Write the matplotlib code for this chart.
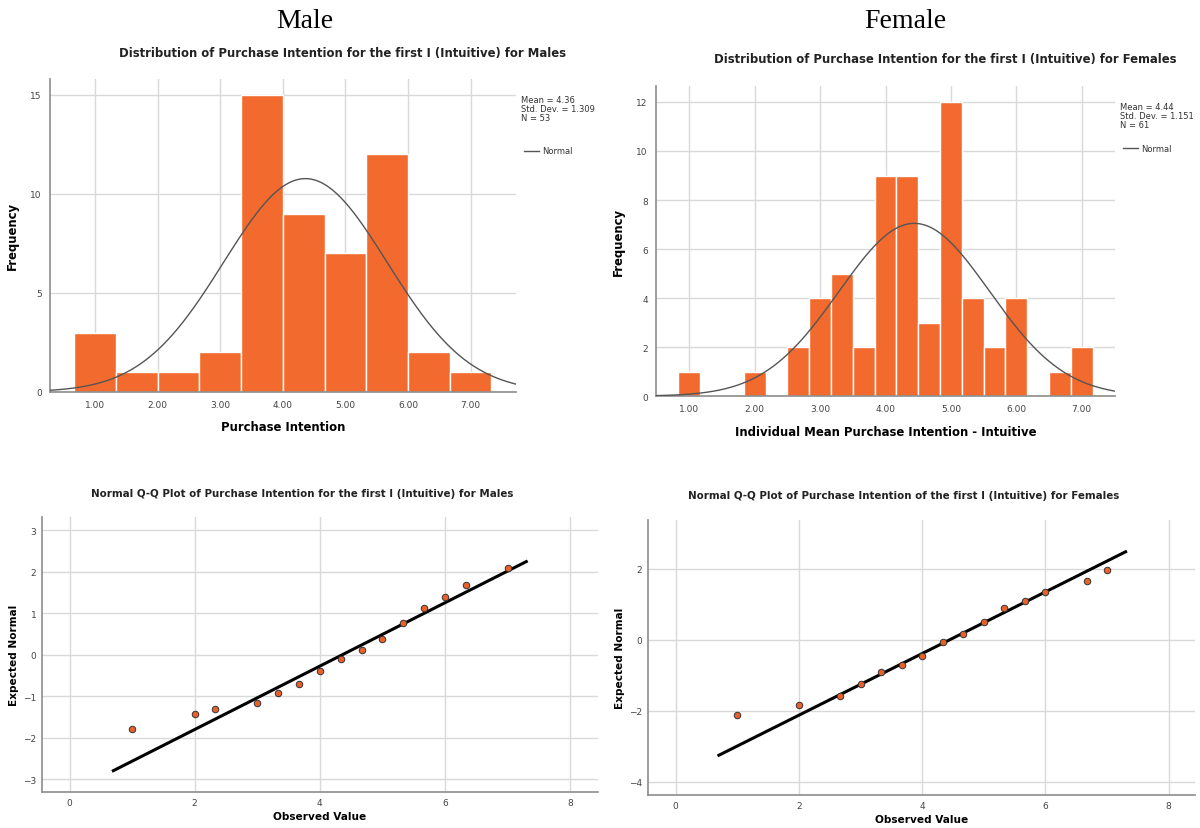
import numpy as np
import matplotlib
matplotlib.use("Agg")
import matplotlib.pyplot as plt

# Histogram data (bin centres and counts)
male_bins = [1.0, 1.667, 2.333, 3.0, 3.667, 4.333, 5.0, 5.667, 6.333, 7.0]
male_counts = [3, 1, 1, 2, 15, 9, 7, 12, 2, 1]
male_width = 2 / 3
male_mean, male_sd, male_n = 4.36, 1.309, 53

female_bins = [1.0, 2.0, 2.667, 3.0, 3.333, 3.667, 4.0, 4.333, 4.667, 5.0,
               5.333, 5.667, 6.0, 6.667, 7.0]
female_counts = [1, 1, 2, 4, 5, 2, 9, 9, 3, 12, 4, 2, 4, 1, 2]
female_width = 1 / 3
female_mean, female_sd, female_n = 4.44, 1.151, 61

# Q-Q data (observed value, expected normal)
male_obs = [1.0, 2.0, 2.333, 3.0, 3.333, 3.667, 4.0, 4.333, 4.667, 5.0,
            5.333, 5.667, 6.0, 6.333, 7.0]
male_exp = [-1.78, -1.44, -1.32, -1.17, -0.93, -0.70, -0.40, -0.10, 0.12,
            0.38, 0.77, 1.13, 1.39, 1.69, 2.09]
female_obs = [1.0, 2.0, 2.667, 3.0, 3.333, 3.667, 4.0, 4.333, 4.667, 5.0,
              5.333, 5.667, 6.0, 6.667, 7.0]
female_exp = [-2.12, -1.83, -1.57, -1.24, -0.89, -0.71, -0.45, -0.07, 0.18,
              0.50, 0.91, 1.11, 1.36, 1.67, 1.98]

bar_color = "#F26A2E"
grid_color = "#D9D9D9"
spine_color = "#8C8C8C"
tick_color = "#444444"
font = "DejaVu Sans"

fig = plt.figure(figsize=(12, 8.29), dpi=100)


def style_axes(ax, pad):
    for s in ["top", "right"]:
        ax.spines[s].set_visible(False)
    for s in ["left", "bottom"]:
        ax.spines[s].set_color(spine_color)
        ax.spines[s].set_linewidth(1.2)
    ax.grid(True, color=grid_color, linewidth=1.0)
    ax.set_axisbelow(True)
    ax.tick_params(length=0, labelsize=6.5, colors=tick_color, pad=pad)


def histogram(rect, bins, counts, width, mean, sd, n, xlim, ylim, yticks,
              title, xlabel, title_y, stats_x, stats_y, norm_y):
    ax = fig.add_axes(rect)
    style_axes(ax, 6)
    ax.bar(bins, counts, width=width, color=bar_color, edgecolor="white",
           linewidth=1.0, zorder=2)
    xs = np.linspace(xlim[0], xlim[1], 300)
    pdf = n * width * np.exp(-0.5 * ((xs - mean) / sd) ** 2) / (sd * np.sqrt(2 * np.pi))
    ax.plot(xs, pdf, color="#555555", linewidth=1.0, zorder=3)
    ax.set_xlim(*xlim)
    ax.set_ylim(*ylim)
    ax.set_xticks(range(1, 8))
    ax.set_xticklabels([f"{v:.2f}" for v in range(1, 8)])
    ax.set_yticks(yticks)
    ax.set_xlabel(xlabel, fontsize=8.4, fontweight="bold", family=font, labelpad=8)
    ax.set_ylabel("Frequency", fontsize=8.4, fontweight="bold", family=font, labelpad=8)
    cx = rect[0] + rect[2] / 2 + 0.05
    fig.text(cx, title_y, title, ha="center", va="center", fontsize=8.4,
             fontweight="bold", family=font, color="#222222")
    fig.text(stats_x, stats_y,
             f"Mean = {mean:.2f}\nStd. Dev. = {sd:.3f}\nN = {n}",
             ha="left", va="top", fontsize=6, family=font, color="#333333",
             linespacing=1.0)
    fig.add_artist(plt.Line2D([stats_x + 0.003, stats_x + 0.015], [norm_y, norm_y],
                              color="#555555", linewidth=1.0))
    fig.text(stats_x + 0.018, norm_y, "Normal", ha="left", va="center",
             fontsize=6, family=font, color="#333333")
    return ax


def qqplot(rect, obs, exp, mean, sd, xlim, ylim, yticks, title, title_y):
    ax = fig.add_axes(rect)
    style_axes(ax, 4)
    lx = np.array([0.7, 7.3])
    ax.plot(lx, (lx - mean) / sd, color="black", linewidth=2.2, zorder=3)
    ax.scatter(obs, exp, s=22, color="#E8612A", edgecolor="#333333",
               linewidth=0.7, zorder=4)
    ax.set_xlim(*xlim)
    ax.set_ylim(*ylim)
    ax.set_xticks([0, 2, 4, 6, 8])
    ax.set_yticks(yticks)
    ax.set_xlabel("Observed Value", fontsize=7.6, fontweight="bold", family=font,
                  labelpad=3)
    ax.set_ylabel("Expected Normal", fontsize=7.6, fontweight="bold", family=font,
                  labelpad=3)
    cx = rect[0] + rect[2] / 2 - 0.015
    fig.text(cx, title_y, title, ha="center", va="center", fontsize=7.4,
             fontweight="bold", family=font, color="#222222")
    return ax


histogram([0.0417, 0.526, 0.388, 0.3776], male_bins, male_counts, male_width,
          male_mean, male_sd, male_n, (0.28, 7.72), (0, 15.8), [0, 5, 10, 15],
          "Distribution of Purchase Intention for the first I (Intuitive) for Males",
          "Purchase Intention", 1 - 53 / 829, 0.434, 1 - 96 / 829, 1 - 152 / 829)

histogram([0.5467, 0.521, 0.3825, 0.374], female_bins, female_counts, female_width,
          female_mean, female_sd, female_n, (0.49, 7.51), (0, 12.65),
          [0, 2, 4, 6, 8, 10, 12],
          "Distribution of Purchase Intention for the first I (Intuitive) for Females",
          "Individual Mean Purchase Intention - Intuitive", 1 - 60 / 829,
          0.933, 1 - 103 / 829, 1 - 149 / 829)

qqplot([0.035, 0.0434, 0.463, 0.3317], male_obs, male_exp, male_mean, male_sd,
       (-0.44, 8.44), (-3.31, 3.32), [-3, -2, -1, 0, 1, 2, 3],
       "Normal Q-Q Plot of Purchase Intention for the first I (Intuitive) for Males",
       1 - 494 / 829)

qqplot([0.54, 0.0398, 0.456, 0.3317], female_obs, female_exp, female_mean, female_sd,
       (-0.45, 8.43), (-4.37, 3.38), [-4, -2, 0, 2],
       "Normal Q-Q Plot of Purchase Intention of the first I (Intuitive) for Females",
       1 - 496 / 829)

fig.text(305 / 1200, 1 - 22 / 829, "Male", ha="center", va="center",
         fontsize=20, family="Liberation Serif")
fig.text(905 / 1200, 1 - 22 / 829, "Female", ha="center", va="center",
         fontsize=20, family="Liberation Serif")

fig.savefig("out.png", dpi=100)
